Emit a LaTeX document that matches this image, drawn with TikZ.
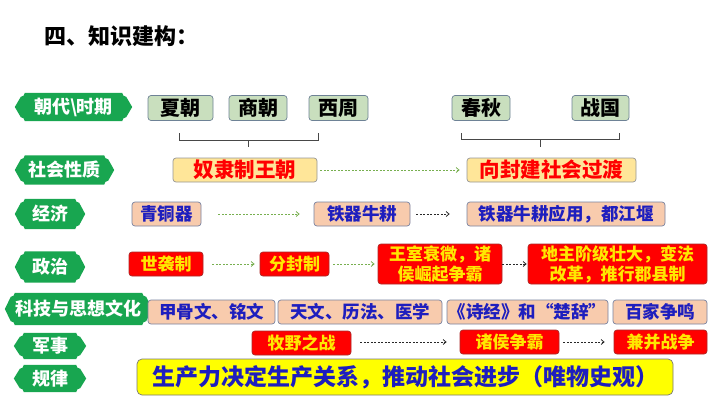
\documentclass[tikz,border=0pt]{standalone}
\usepackage{fontspec}
\setmainfont{Noto Sans CJK SC}
\usetikzlibrary{arrows.meta,backgrounds,calc}
\definecolor{plaquegreen}{RGB}{24,166,80}
\definecolor{perfill}{RGB}{201,223,190}
\definecolor{perborder}{RGB}{110,130,150}
\definecolor{natfill}{RGB}{255,230,153}
\definecolor{natborder}{RGB}{150,150,150}
\definecolor{peach}{RGB}{248,203,173}
\definecolor{peachborder}{RGB}{120,130,160}
\definecolor{txtblue}{RGB}{30,30,190}
\definecolor{boxred}{RGB}{255,0,0}
\definecolor{redborder}{RGB}{170,40,40}
\definecolor{txtyellow}{RGB}{255,232,0}
\definecolor{gline}{RGB}{120,175,80}
\definecolor{kline}{RGB}{40,40,40}
\definecolor{rulefill}{RGB}{255,255,0}
\definecolor{ruleborder}{RGB}{120,120,120}
\newcommand\fsz[2]{\fontsize{#1}{#2}\selectfont}
\tikzset{
  box/.style={rounded corners=3pt, line width=0.7pt, inner sep=0pt, align=center, minimum height=24pt},
  wd/.style={minimum width=#1},
  period/.style={box, fill=perfill, draw=perborder, minimum height=25pt, font=\bfseries\fsz{20}{24}},
  nature/.style={box, fill=natfill, draw=natborder, text=boxred, font=\bfseries\fsz{20.5}{24}},
  econ/.style={box, fill=peach, draw=peachborder, text=txtblue, font=\bfseries\fsz{17.5}{21}},
  redbox/.style={box, fill=boxred, draw=redborder, text=txtyellow, font=\bfseries\fsz{17}{20}},
  rulebox/.style={box, rounded corners=5pt, fill=rulefill, draw=ruleborder, text=txtblue, minimum height=36pt, font=\bfseries\fsz{23}{26}},
  plaque/.style={inner sep=0pt, text=white, font=\bfseries\fsz{18}{20}},
  garrow/.style={draw=gline, line width=0.8pt, dash pattern=on 2pt off 1.5pt, -{Straight Barb[length=3pt,width=5pt]}},
  karrow/.style={draw=kline, line width=0.8pt, dash pattern=on 2pt off 1.5pt, -{Straight Barb[length=3pt,width=5pt]}},
  bracketline/.style={draw=kline!85, line width=0.8pt},
}
\begin{document}
\begin{tikzpicture}[x=1pt,y=1pt]
\useasboundingbox (0,0) rectangle (720,-405);

% title
\node[anchor=west, font=\bfseries\fsz{22}{26}] (title) at (41,-36) {四、知识建构：};

% labels
\node[plaque, minimum width=117pt, minimum height=28pt] (L1) at (73.5,-107) {朝代\textbackslash 时期};
\node[plaque, minimum width=99pt, minimum height=29pt] (L2) at (64.5,-170) {社会性质};
\node[plaque, minimum width=70pt, minimum height=30pt] (L3) at (50,-214) {经济};
\node[plaque, minimum width=70pt, minimum height=31pt] (L4) at (50,-267) {政治};
\node[plaque, minimum width=147pt, minimum height=32pt] (L5) at (78.5,-309) {科技与思想文化};
\node[plaque, minimum width=72pt, minimum height=26pt] (L6) at (50,-346) {军事};
\node[plaque, minimum width=72pt, minimum height=27pt] (L7) at (50,-378.5) {规律};

% periods
\node[period, wd=65pt] (xia) at (180.5,-108) {夏朝};
\node[period, wd=58pt] (shang) at (258,-108) {商朝};
\node[period, wd=59pt] (xizhou) at (338.5,-108) {西周};
\node[period, wd=58pt] (chunqiu) at (481,-108) {春秋};
\node[period, wd=57pt] (zhanguo) at (600.5,-108) {战国};

% brackets
\draw[bracketline] (179,-133) |- (318,-140) -- (318,-133);
\draw[bracketline] (248.5,-140) -- (248.5,-147);
\draw[bracketline] (461,-133) |- (619,-139.5) -- (619,-133);
\draw[bracketline] (540,-139.5) -- (540,-147);

% social nature
\node[nature, wd=144pt] (nl) at (245,-170) {奴隶制王朝};
\node[nature, wd=169pt] (fj) at (551.5,-170) {向封建社会过渡};
\draw[garrow, shorten <=3pt, shorten >=7pt] (nl.east) -- (fj.west);

% economy
\node[econ, wd=69pt] (qtq) at (166.5,-214) {青铜器};
\node[econ, wd=96pt] (tq) at (362,-214) {铁器牛耕};
\node[econ, wd=198pt] (tqy) at (566,-214) {铁器牛耕应用，都江堰};
\draw[garrow, shorten <=17pt, shorten >=14pt] (qtq.east) -- (tq.west);
\draw[karrow, shorten <=6pt, shorten >=17pt] (tq.east) -- (tqy.west);

% politics
\node[redbox, wd=74pt] (sx) at (166,-264) {世袭制};
\node[redbox, wd=69pt] (ff) at (294.5,-264) {分封制};
\node[redbox, wd=124pt, minimum height=40pt] (ws) at (440,-264) {王室衰微，诸\\侯崛起争霸};
\node[redbox, wd=179pt, minimum height=40pt] (dz) at (617.5,-264) {地主阶级壮大，变法\\改革，推行郡县制};
\draw[garrow, shorten <=9pt, shorten >=5pt] (sx.east) -- (ff.west);
\draw[garrow, shorten <=4pt, shorten >=3pt] (ff.east) -- (ws.west);
\draw[karrow, shorten <=0pt, shorten >=1pt] (ws.east) -- (dz.west);

% culture
\node[econ, wd=127pt] (jgw) at (211.5,-312) {甲骨文、铭文};
\node[econ, wd=164pt] (tw) at (360,-312) {天文、历法、医学};
\node[econ, wd=161pt] (sj) at (527.5,-312) {《诗经》和“楚辞”};
\node[econ, wd=94pt] (bj) at (660,-312) {百家争鸣};

% military
\node[redbox, wd=99pt] (my) at (301.5,-343) {牧野之战};
\node[redbox, wd=99pt] (zh) at (509.5,-342) {诸侯争霸};
\node[redbox, wd=93pt] (jb) at (660.5,-342) {兼并战争};
\draw[karrow, shorten <=9pt, shorten >=13pt] (my.east |- zh.west) -- (zh.west);
\draw[karrow, shorten <=4pt, shorten >=9pt] (zh.east) -- (jb.west);

% rule
\node[rulebox, wd=536pt] (gl) at (405,-377) {生产力决定生产关系，推动社会进步（唯物史观）};

% plaque backgrounds
\begin{scope}[on background layer]
\foreach \lab in {L1,L2,L3,L4,L5,L6,L7}{
  \fill[plaquegreen] let \p1=(\lab.north west), \p2=(\lab.south east) in
    (\x1+10pt,\y1) arc[start angle=0,end angle=-90,radius=4pt]
    -- (\x1,{0.5*(\y1+\y2)})
    -- (\x1+6pt,\y2+4pt) arc[start angle=90,end angle=0,radius=4pt]
    -- (\x2-10pt,\y2) arc[start angle=180,end angle=90,radius=4pt]
    -- (\x2,{0.5*(\y1+\y2)})
    -- (\x2-6pt,\y1-4pt) arc[start angle=-90,end angle=-180,radius=4pt]
    -- cycle;
}
\end{scope}
\end{tikzpicture}
\end{document}
